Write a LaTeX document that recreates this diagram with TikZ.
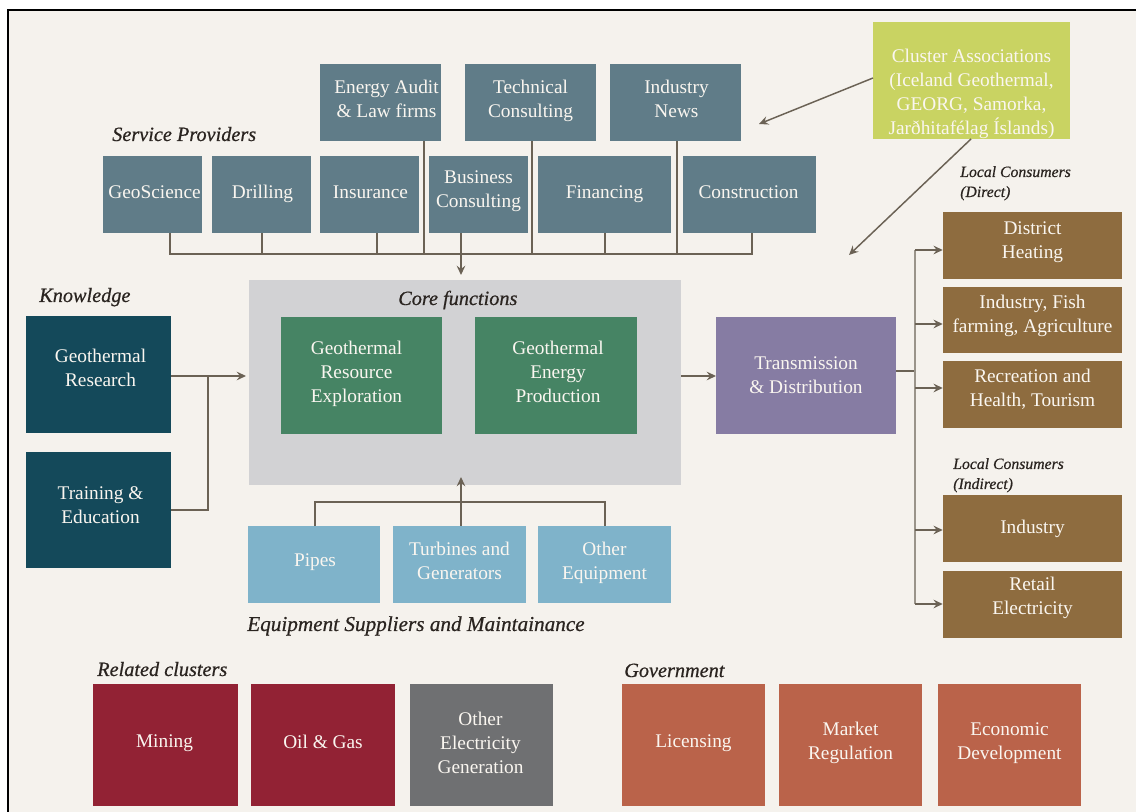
\documentclass[tikz,border=0pt]{standalone}
\usepackage{fontspec}
\setmainfont{Liberation Serif}
\usetikzlibrary{arrows.meta}
\definecolor{paper}{HTML}{F5F2ED}
\definecolor{slate}{HTML}{607C88}
\definecolor{deepteal}{HTML}{14495A}
\definecolor{leaf}{HTML}{468464}
\definecolor{sky}{HTML}{7FB3CA}
\definecolor{violetbox}{HTML}{867CA3}
\definecolor{umber}{HTML}{8E6C3F}
\definecolor{wine}{HTML}{922234}
\definecolor{ash}{HTML}{6F7072}
\definecolor{clay}{HTML}{BA634A}
\definecolor{lime}{HTML}{C9D362}
\definecolor{coregrey}{HTML}{D2D2D4}
\definecolor{wire}{HTML}{6B6255}
\definecolor{wirelight}{HTML}{9A948A}
\definecolor{boxtext}{HTML}{FAF6F0}
\definecolor{labeltext}{HTML}{2A2420}
\newfontface\headface[FakeBold=0.6]{Liberation Serif Italic}
\tikzset{
  boxbase/.style={rectangle,inner sep=0pt,text=boxtext,align=center,font=\fontsize{14.5}{18}\selectfont},
  head/.style={anchor=base west,inner sep=0pt,text=labeltext,font=\fontsize{15.2}{18}\headface},
  smallhead/.style={anchor=base west,inner sep=0pt,text=labeltext,align=left,font=\fontsize{11.8}{15}\headface},
  wireline/.style={draw=wire,line width=1.1pt},
  arrowline/.style={draw=wire,line width=1.1pt,-{Stealth[length=7pt,width=6.5pt,inset=2.5pt]}},
  railline/.style={draw=wirelight,line width=1.5pt},
}
% [dx] name, fill, x1,y1,x2,y2, text raise (px), text
\newcommand\bx[9][0]{%
  \pgfmathsetmacro\bw{(#6-#4)*0.75}%
  \pgfmathsetmacro\bh{(#7-#5)*0.75}%
  \pgfmathsetmacro\bcx{(#4+#6)/2}%
  \pgfmathsetmacro\bcy{(#5+#7)/2}%
  \pgfmathsetmacro\tx{\bcx+(#1)}%
  \pgfmathsetmacro\ty{\bcy-(#8)}%
  \node[boxbase,fill=#3,minimum width=\bw pt,minimum height=\bh pt] (#2) at (\bcx,\bcy) {};
  \node[boxbase] (#2t) at (\tx,\ty) {#9};
}
\begin{document}
\begin{tikzpicture}[x=0.75pt,y=-0.75pt]
\useasboundingbox (0,0) rectangle (1136,812);
\fill[white] (0,0) rectangle (1136,812);
\fill[paper] (8,10) rectangle (1136,812);
\draw[black,line width=1.5pt] (8,812) -- (8,10) -- (1136,10);

\bx{core}{coregrey}{249}{280}{681}{485}{0}{}

\bx[6]{audit}{slate}{320}{64}{441}{141}{3.5}{Energy Audit\\\& Law firms}
\bx{tech}{slate}{465}{64}{596}{141}{1.5}{Technical\\Consulting}
\bx[1]{news}{slate}{610}{64}{741}{141}{4}{Industry\\News}
\bx[2]{geo}{slate}{103}{156}{202}{233}{2}{GeoScience}
\bx[1]{drill}{slate}{212}{156}{311}{233}{1}{Drilling}
\bx[1]{insur}{slate}{320}{156}{419}{233}{2}{Insurance}
\bx{biz}{slate}{429}{156}{528}{233}{3}{Business\\Consulting}
\bx{fin}{slate}{538}{156}{671}{233}{0}{Financing}
\bx[-1]{constr}{slate}{683}{156}{816}{233}{2}{Construction}

\bx[-5]{explore}{leaf}{281}{317}{442}{434}{2}{Geothermal\\Resource\\Exploration}
\bx[2]{produce}{leaf}{475}{317}{637}{434}{4}{Geothermal\\Energy\\Production}
\bx[2]{research}{deepteal}{26}{316}{171}{433}{7}{Geothermal\\Research}
\bx[2]{training}{deepteal}{26}{452}{171}{568}{5}{Training \&\\Education}
\bx{trans}{violetbox}{716}{317}{896}{434}{0}{Transmission\\\& Distribution}
\bx{cluster}{lime}{873}{22}{1070}{139}{-13}{Cluster Associations\\(Iceland Geothermal,\\GEORG, Samorka,\\Jarðhitafélag Íslands)}

\bx{heat}{umber}{943}{212}{1122}{279}{3}{District\\Heating}
\bx{fish}{umber}{943}{287}{1122}{353}{4.5}{Industry, Fish\\farming, Agriculture}
\bx{recr}{umber}{943}{361}{1122}{428}{5.5}{Recreation and\\Health, Tourism}
\bx{indus}{umber}{943}{495}{1122}{562}{0}{Industry}
\bx{retail}{umber}{943}{571}{1122}{638}{6.5}{Retail\\Electricity}

\bx[1]{pipes}{sky}{248}{526}{380}{603}{2}{Pipes}
\bx{turb}{sky}{393}{526}{526}{603}{4}{Turbines and\\Generators}
\bx{other}{sky}{538}{526}{671}{603}{2}{Other\\Equipment}

\bx[-1]{mining}{wine}{93}{684}{238}{806}{2}{Mining}
\bx{oil}{wine}{251}{684}{395}{806}{3}{Oil \& Gas}
\bx[-1]{elec}{ash}{410}{684}{553}{806}{2}{Other\\Electricity\\Generation}
\bx{lic}{clay}{622}{684}{765}{806}{2}{Licensing}
\bx{market}{clay}{779}{684}{922}{806}{2}{Market\\Regulation}
\bx{econ}{clay}{938}{684}{1081}{806}{2}{Economic\\Development}

\node[head] (hservice) at (112,141) {Service Providers};
\node[head] (hcore) at (398,305) {Core functions};
\node[head] (hknow) at (39,302) {Knowledge};
\node[head,font=\fontsize{15.9}{18}\headface] (hequip) at (247,631) {Equipment Suppliers and Maintainance};
\node[head] (hrel) at (97,676) {Related clusters};
\node[head] (hgov) at (624,677) {Government};
\node[smallhead] (hdirect) at (960,197) {Local Consumers\\(Direct)};
\node[smallhead] (hindirect) at (953,489) {Local Consumers\\(Indirect)};

% service bus
\coordinate (j1) at (170,254);
\coordinate (j2) at (262,254);
\coordinate (j3) at (377,254);
\coordinate (j4) at (424,254);
\coordinate (j5) at (532,254);
\coordinate (j6) at (605,254);
\coordinate (j7) at (677,254);
\coordinate (j8) at (752,254);
\coordinate (jb) at (461,254);
\draw[wireline] (j1 |- geo.south) -- (j1) -- (j8) -- (j8 |- constr.south);
\draw[wireline] (j2 |- drill.south) -- (j2);
\draw[wireline] (j3 |- insur.south) -- (j3);
\draw[wireline] (j4 |- audit.south) -- (j4);
\draw[wireline] (j5 |- tech.south) -- (j5);
\draw[wireline] (j6 |- fin.south) -- (j6);
\draw[wireline] (j7 |- news.south) -- (j7);
\coordinate (coreN) at (461,275);
\draw[arrowline] (jb |- biz.south) -- (coreN);

% knowledge
\coordinate (kjoin) at (208,376);
\coordinate (kend) at (246,376);
\coordinate (tjoin) at (208,510);
\draw[arrowline] (research.east |- kjoin) -- (kend);
\draw[wireline] (training.east |- tjoin) -- (tjoin) -- (kjoin);

% core to transmission
\coordinate (tin) at (716,376);
\draw[arrowline] (core.east |- tin) -- (tin);

% transmission to consumers
\coordinate (rail) at (915,371);
\coordinate (r1) at (915,250);
\coordinate (r2) at (915,324);
\coordinate (r3) at (915,388);
\coordinate (r4) at (915,530);
\coordinate (r5) at (915,604);
\draw[wireline] (trans.east |- rail) -- (rail);
\draw[railline] (r1) -- (r5);
\draw[arrowline] (r1) -- (heat.west |- r1);
\draw[arrowline] (r2) -- (fish.west |- r2);
\draw[arrowline] (r3) -- (recr.west |- r3);
\draw[arrowline] (r4) -- (indus.west |- r4);
\draw[arrowline] (r5) -- (retail.west |- r5);

% equipment
\coordinate (ebar) at (461,502);
\coordinate (eL) at (315,502);
\coordinate (eR) at (605,502);
\coordinate (eTop) at (461,477);
\draw[wireline] (eL |- pipes.north) -- (eL) -- (eR) -- (eR |- other.north);
\draw[arrowline] (ebar |- turb.north) -- (eTop);

% cluster associations
\coordinate (cA) at (759,124);
\coordinate (cB) at (849,255);
\coordinate (cOutA) at (873,78);
\coordinate (cOutB) at (971,139);
\draw[arrowline] (cOutA) -- (cA);
\draw[arrowline] (cOutB) -- (cB);
\end{tikzpicture}
\end{document}
